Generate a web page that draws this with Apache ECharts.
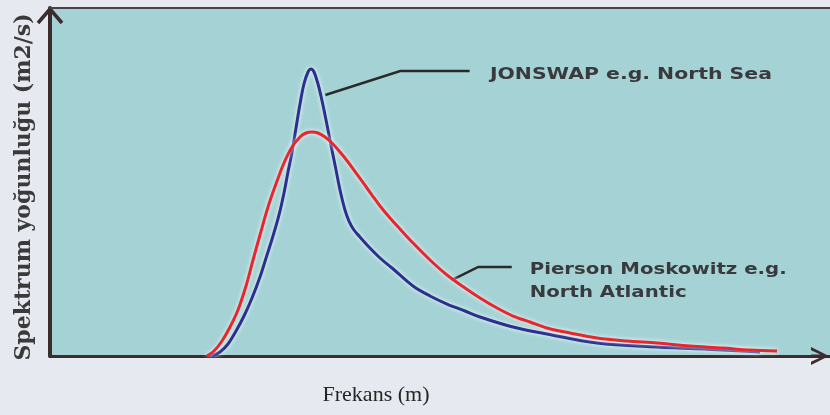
<!DOCTYPE html>
<html>
<head>
<meta charset="utf-8">
<script src="https://cdn.jsdelivr.net/npm/echarts@6/dist/echarts.min.js"></script>
<style>
  html, body { margin: 0; padding: 0; background: #e6e9ef; }
  #chart { width: 830px; height: 415px; }
</style>
</head>
<body>
<div id="chart"></div>
<script>
// frequency on a 0..100 scale, density on a 0..100 scale (no tick labels in the source)
var jonswapFreq = [20.77, 21.79, 22.82, 23.85, 24.87, 25.90, 26.92, 27.82, 28.59, 29.36, 30.00, 30.51, 31.03,
  31.54, 32.05, 32.56, 33.08, 33.46, 33.85, 34.36, 34.74, 35.13, 35.64, 36.15, 36.67, 37.18, 37.82, 38.33,
  38.97, 39.74, 40.77, 42.31, 43.85, 46.54, 48.72, 50.90, 53.21, 55.13, 59.36, 63.72, 70.13, 77.82, 86.28, 91.03];
var jonswapDensity = [0, 1.15, 3.45, 7.18, 11.49, 16.67, 22.70, 29.02, 34.48, 40.52, 46.84, 52.87, 58.62,
  65.52, 72.41, 78.16, 81.61, 82.47, 81.61, 78.16, 74.71, 70.69, 64.94, 59.20, 53.45, 47.70, 41.95, 38.79,
  36.21, 34.20, 31.61, 28.16, 25.29, 20.11, 17.24, 14.94, 12.93, 11.21, 8.33, 6.32, 3.74, 2.59, 1.72, 1.15];

var pmFreq = [20.13, 21.03, 22.05, 23.08, 24.10, 25.13, 26.03, 26.92, 27.95, 28.97, 30.00, 31.03, 32.05,
  32.82, 33.59, 34.36, 35.26, 36.15, 37.18, 38.21, 39.23, 40.26, 41.28, 42.31, 43.59, 44.87, 46.54, 48.72,
  50.90, 53.21, 55.13, 57.31, 59.36, 61.54, 63.72, 66.67, 70.13, 73.97, 77.82, 82.05, 86.28, 89.74, 93.21];
var pmDensity = [0, 1.44, 4.31, 8.33, 13.22, 20.11, 27.59, 34.77, 42.82, 49.43, 55.46, 60.06, 62.93,
  64.08, 64.37, 64.08, 62.93, 61.21, 58.62, 55.75, 52.59, 49.43, 46.26, 43.10, 39.66, 36.49, 32.47, 27.59,
  23.28, 19.54, 16.67, 13.79, 11.49, 9.77, 8.05, 6.61, 5.17, 4.31, 3.74, 2.87, 2.30, 1.72, 1.44];

var jonswapLabel = 'JONSWAP e.g. North Sea';
var pmLabel = 'Pierson Moskowitz e.g.\nNorth Atlantic';
// leader lines: [freq, density] anchors
var jonswapLeader = [[35.3, 75.0], [44.9, 81.9], [53.8, 81.9]];
var pmLeader = [[51.5, 21.8], [54.9, 25.6], [59.2, 25.6]];
var jonswapTextAt = [56.4, 80.7];
var pmTextAt = [61.5, 24.7];

function pairs(xs, ys) {
  return xs.map(function (x, i) { return [x, ys[i]]; });
}

// open chevron with a stem, so the axis reaches the tip
var arrowPath = 'path://M0,20 L10,0 L20,20 L16.5,20 L11.6,9.5 L11.6,20 L8.4,20 L8.4,9.5 L3.5,20 Z';
var axisColor = '#3b2c2e';
var labelFont = 'bold 15px "DejaVu Sans"';

function fitScale(text, font, width) {
  var ctx = document.createElement('canvas').getContext('2d');
  ctx.font = font;
  return width / ctx.measureText(text).width;
}

var chart = echarts.init(document.getElementById('chart'));

var option = {
  backgroundColor: '#e6e9ef',
  animation: false,
  grid: {
    left: 50, right: 0, top: 8, bottom: 59,
    show: true,
    backgroundColor: '#a5d3d5',
    borderWidth: 0,
    outerBoundsMode: 'none'
  },
  xAxis: [{
    type: 'value',
    min: 0, max: 100,
    name: 'Frekans (m)',
    nameLocation: 'middle',
    nameGap: 28,
    nameTextStyle: {
      fontFamily: '"Liberation Serif"',
      fontSize: 22,
      color: '#262626',
      padding: [0, 128, 0, 0]
    },
    axisLine: {
      lineStyle: { color: axisColor, width: 3 },
      symbol: ['none', arrowPath],
      symbolSize: [20, 18],
      symbolOffset: [0, -10]
    },
    axisTick: { show: false },
    axisLabel: { show: false },
    splitLine: { show: false }
  }, {
    type: 'value',
    position: 'top',
    min: 0, max: 100,
    axisLine: { lineStyle: { color: '#4a4048', width: 2 } },
    axisTick: { show: false },
    axisLabel: { show: false },
    splitLine: { show: false }
  }],
  yAxis: {
    type: 'value',
    min: 0, max: 100,
    name: 'Spektrum yoğunluğu (m2/s)',
    nameLocation: 'middle',
    nameGap: 15,
    nameTextStyle: {
      fontFamily: '"DejaVu Serif"',
      fontWeight: 'bold',
      fontSize: 22,
      color: '#3a3a3a',
      padding: [0, 10, 0, 0]
    },
    axisLine: {
      lineStyle: { color: axisColor, width: 4 }
    },
    axisTick: { show: false },
    axisLabel: { show: false },
    splitLine: { show: false }
  },
  series: [{
    name: 'JONSWAP',
    type: 'line',
    data: pairs(jonswapFreq, jonswapDensity),
    smooth: 0.35,
    showSymbol: false,
    lineStyle: {
      color: '#2b2f8e', width: 3,
      shadowColor: 'rgba(255,255,255,0.9)', shadowBlur: 4
    }
  }, {
    name: 'Pierson Moskowitz',
    type: 'line',
    data: pairs(pmFreq, pmDensity),
    smooth: 0.35,
    showSymbol: false,
    lineStyle: {
      color: '#e8262e', width: 3,
      shadowColor: 'rgba(255,255,255,0.9)', shadowBlur: 4
    }
  }]
};

chart.setOption(option);

function toPx(p) {
  return chart.convertToPixel({ gridIndex: 0 }, p);
}

var jsPos = toPx(jonswapTextAt);
var pmPos = toPx(pmTextAt);
var yTip = toPx([0, 100]);

chart.setOption({
  graphic: [{
    // arrow head at the top of the y axis
    type: 'polyline',
    shape: { points: [[yTip[0] - 12, yTip[1] + 15], [yTip[0], yTip[1] + 1], [yTip[0] + 12, yTip[1] + 15]] },
    style: { stroke: axisColor, lineWidth: 3.5, fill: null, lineJoin: 'miter' }
  }, {
    type: 'polyline',
    shape: { points: jonswapLeader.map(toPx) },
    style: { stroke: '#2a2a2a', lineWidth: 2.5, fill: null }
  }, {
    type: 'polyline',
    shape: { points: pmLeader.map(toPx) },
    style: { stroke: '#2a2a2a', lineWidth: 2.5, fill: null }
  }, {
    type: 'text',
    x: jsPos[0], y: jsPos[1],
    scaleX: fitScale(jonswapLabel, labelFont, 282),
    style: {
      text: jonswapLabel,
      font: labelFont,
      fill: '#3a3a3e',
      align: 'left',
      verticalAlign: 'middle'
    }
  }, {
    type: 'text',
    x: pmPos[0], y: pmPos[1] - 11,
    scaleX: fitScale('Pierson Moskowitz e.g.', labelFont, 257),
    style: {
      text: pmLabel,
      font: labelFont,
      fill: '#3a3a3e',
      lineHeight: 23,
      align: 'left',
      verticalAlign: 'top'
    }
  }]
});
</script>
</body>
</html>
